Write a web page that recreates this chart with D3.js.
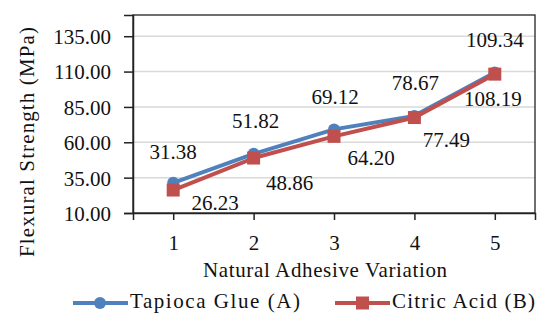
<!DOCTYPE html>
<html>
<head>
<meta charset="utf-8">
<script src="https://cdn.jsdelivr.net/npm/d3@7"></script>
<style>
  body { margin: 0; background: #fff; }
  svg text { font-family: "Liberation Serif", "Times New Roman", Tinos, Times, "DejaVu Serif", serif !important; fill: #111; }
</style>
</head>
<body>
<figure id="chart" style="margin:0"></figure>
<script>
const categories = ["1", "2", "3", "4", "5"];
const tapiocaValues = [31.38, 51.82, 69.12, 78.67, 109.34];
const citricValues = [26.23, 48.86, 64.20, 77.49, 108.19];
const yTickValues = [10, 35, 60, 85, 110, 135];
const seriesNames = ["Tapioca Glue (A)", "Citric Acid (B)"];

const width = 541, height = 313;
const plotLeft = 133, plotRight = 535, plotTop = 15, plotBottom = 213;

// label offsets from the marker (dx, dy to text baseline)
const blueOffsets = [[0, -24], [2, -26], [1, -25], [1, -26], [0, -26]];
const redOffsets = [[42, 20], [36, 32], [37, 29], [32, 29], [-2, 32]];

const svg = d3.select("#chart")
  .append("svg")
  .attr("width", width)
  .attr("height", height);

const x = d3.scalePoint()
  .domain(categories)
  .range([plotLeft, plotRight])
  .padding(0.5);

const y = d3.scaleLinear()
  .domain([10, 150])
  .range([plotBottom, plotTop]);

// gridlines
svg.append("g")
  .selectAll("line")
  .data(yTickValues.slice(1))
  .enter()
  .append("line")
  .attr("x1", plotLeft)
  .attr("x2", plotRight)
  .attr("y1", d => y(d))
  .attr("y2", d => y(d))
  .attr("stroke", "#d9d9d9")
  .attr("stroke-width", 1.5);

// frame
svg.append("rect")
  .attr("x", plotLeft)
  .attr("y", plotTop)
  .attr("width", plotRight - plotLeft)
  .attr("height", plotBottom - plotTop)
  .attr("fill", "none")
  .attr("stroke", "#222")
  .attr("stroke-width", 1.3);

// y axis
const yAxis = svg.append("g")
  .attr("transform", `translate(${plotLeft},0)`)
  .attr("font-family", null)
  .call(d3.axisLeft(y).tickValues(yTickValues).tickSize(9).tickFormat(d => d.toFixed(2)));
yAxis.attr("font-family", null).attr("font-size", null);
yAxis.select(".domain").attr("stroke", "#222").attr("stroke-width", 1.5);
yAxis.selectAll(".tick line").attr("stroke", "#222").attr("stroke-width", 1.5);
yAxis.selectAll(".tick text")
  .attr("x", -22)
  .attr("dy", "0.35em")
  .style("font-size", "21px");

// x axis
const xAxis = svg.append("g")
  .attr("transform", `translate(0,${plotBottom})`)
  .call(d3.axisBottom(x).tickSize(7));
xAxis.attr("font-family", null).attr("font-size", null);
xAxis.select(".domain").attr("stroke", "#222").attr("stroke-width", 1.5);
xAxis.selectAll(".tick line").attr("stroke", "#222").attr("stroke-width", 1.5);
xAxis.selectAll(".tick text")
  .attr("y", 37)
  .attr("dy", 0)
  .style("font-size", "21px");

// axis titles
svg.append("text")
  .attr("x", 325)
  .attr("y", 277)
  .attr("text-anchor", "middle")
  .attr("textLength", 244)
  .style("font-size", "21px")
  .text("Natural Adhesive Variation");

svg.append("text")
  .attr("transform", "translate(34,142) rotate(-90)")
  .attr("text-anchor", "middle")
  .attr("textLength", 230)
  .style("font-size", "21px")
  .text("Flexural Strength (MPa)");

const line = d3.line()
  .x((d, i) => x(categories[i]))
  .y(d => y(d));

const series = [
  { name: seriesNames[0], values: tapiocaValues, color: "#4f81bd", offsets: blueOffsets },
  { name: seriesNames[1], values: citricValues, color: "#c0504d", offsets: redOffsets }
];

series.forEach((s, k) => {
  svg.append("path")
    .datum(s.values)
    .attr("d", line)
    .attr("fill", "none")
    .attr("stroke", s.color)
    .attr("stroke-width", 4);

  if (k === 0) {
    svg.selectAll(".mk0")
      .data(s.values)
      .enter()
      .append("circle")
      .attr("cx", (d, i) => x(categories[i]))
      .attr("cy", d => y(d))
      .attr("r", 6)
      .attr("fill", s.color);
  } else {
    svg.selectAll(".mk1")
      .data(s.values)
      .enter()
      .append("rect")
      .attr("x", (d, i) => x(categories[i]) - 6.5)
      .attr("y", d => y(d) - 6.5)
      .attr("width", 13)
      .attr("height", 13)
      .attr("fill", s.color);
  }
});

// data labels
series.forEach(s => {
  svg.append("g")
    .selectAll("text")
    .data(s.values)
    .enter()
    .append("text")
    .attr("x", (d, i) => x(categories[i]) + s.offsets[i][0])
    .attr("y", (d, i) => y(d) + s.offsets[i][1])
    .attr("text-anchor", "middle")
    .style("font-size", "21px")
    .text(d => d.toFixed(2));
});

// legend
const legendX = [73, 335];
const legendText = [[130, 170], [392, 143]];
series.forEach((s, k) => {
  const lg = svg.append("g");
  lg.append("line")
    .attr("x1", legendX[k])
    .attr("x2", legendX[k] + 55)
    .attr("y1", 303)
    .attr("y2", 303)
    .attr("stroke", s.color)
    .attr("stroke-width", 4);
  if (k === 0) {
    lg.append("circle").attr("cx", legendX[k] + 27).attr("cy", 303).attr("r", 6).attr("fill", s.color);
  } else {
    lg.append("rect").attr("x", legendX[k] + 21).attr("y", 296.5).attr("width", 13).attr("height", 13).attr("fill", s.color);
  }
  lg.append("text")
    .attr("x", legendText[k][0])
    .attr("y", 308)
    .attr("textLength", legendText[k][1])
    .style("font-size", "21px")
    .text(s.name);
});
</script>
</body>
</html>
